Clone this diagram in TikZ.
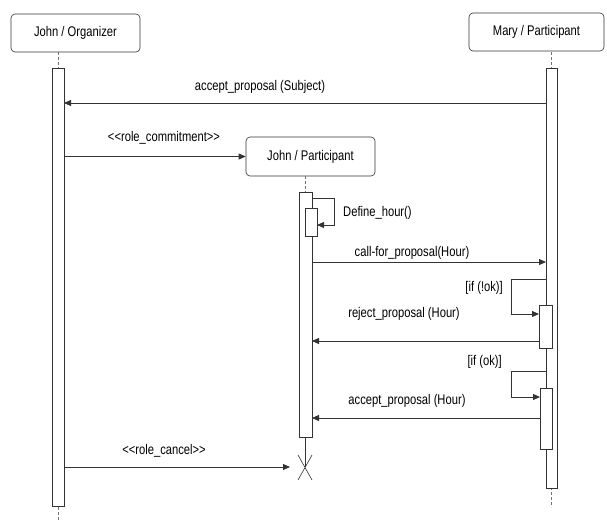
\documentclass[tikz,border=0pt]{standalone}
\usepackage{fontspec}
\setmainfont{Liberation Sans}[FakeStretch=0.8]
\usetikzlibrary{arrows.meta}

\tikzset{
  actor/.style={draw=black!80, semithick, rounded corners=4pt, fill=white, minimum height=38pt, inner sep=0pt, font=\fontsize{14}{16}\selectfont},
  bar/.style={draw=black!80, semithick, fill=white, inner sep=0pt, outer sep=0pt, anchor=north},
  life/.style={draw=black!55, dash pattern=on 3pt off 2pt},
  msg/.style={draw=black!80, thick, -{Triangle[length=7pt,width=6pt]}},
  lbl/.style={inner sep=0pt, font=\fontsize{14}{16}\selectfont}
}

\begin{document}
\begin{tikzpicture}[x=1pt, y=-1pt]
        \useasboundingbox (0,0) rectangle (607,520);
        \node[actor, minimum width=129pt] (org) at (75.5,33) {John / Organizer};
        \node[actor, minimum width=135pt] (mary) at (536.5,32) {Mary / Participant};
        \node[actor, minimum width=129pt, minimum height=39pt] (jp) at (310.5,156.5) {John / Participant};
        \draw[life] (58,52) -- (58,520);
        \draw[life] (551.5,52) -- (551.5,507);
        \draw[life] (305.5,176) -- (305.5,192);
        \draw[draw=black!80, semithick] (305.5,437) -- (305.5,467);
        \node[bar, minimum width=12pt, minimum height=438pt] (orgbar) at (58,68) {};
        \node[bar, minimum width=11pt, minimum height=420pt] (marybar) at (551.5,68) {};
        \node[bar, minimum width=13pt, minimum height=245pt] (jpbar) at (305.5,192) {};
        \node[bar, minimum width=12pt, minimum height=28pt] (defbar) at (311,208) {};
        \node[bar, minimum width=13pt, minimum height=43pt] (nokbar) at (545.5,305) {};
        \node[bar, minimum width=12pt, minimum height=61pt] (okbar) at (546,388) {};
        \coordinate (kill) at (305,467);
        \draw[black!80, semithick] ([shift={(-7,-12)}]kill) -- ([shift={(7,13)}]kill)
            ([shift={(7,-12)}]kill) -- ([shift={(-7,13)}]kill);

        \draw[msg] (marybar.west |- 0,103) -- (orgbar.east |- 0,103);
        \node[lbl] (m1) at (260,87) {accept\_proposal (Subject)};
        \draw[msg] (orgbar.east |- jp.west) -- (jp.west);
        \node[lbl] (m2) at (164,138) {<{}<role\_commitment>{}>};
        \draw[msg] (jpbar.east |- 0,198) -- (334,198) -- (334,225) -- (defbar.east |- 0,225);
        \node[lbl, anchor=west] (m3) at (343,213) {Define\_hour()};
        \draw[msg] (jpbar.east |- 0,262) -- (marybar.west |- 0,262);
        \node[lbl] (m4) at (412,253) {call-for\_proposal(Hour)};
        \draw[msg] (marybar.west |- 0,279) -- (511,279) -- (511,314) -- (nokbar.west |- 0,314);
        \node[lbl, anchor=east] (m5) at (503,288) {[if (!ok)]};
        \draw[msg] (nokbar.west |- 0,341) -- (jpbar.east |- 0,341);
        \node[lbl] (m6) at (404,314) {reject\_proposal (Hour)};
        \draw[msg] (marybar.west |- 0,371) -- (511,371) -- (511,397) -- (okbar.west |- 0,397);
        \node[lbl, anchor=east] (m7) at (502,362) {[if (ok)]};
        \draw[msg] (okbar.west |- 0,418) -- (jpbar.east |- 0,418);
        \node[lbl] (m8) at (407,401) {accept\_proposal (Hour)};
        \draw[msg] (orgbar.east |- kill) -- ([xshift=-15pt]kill);
        \node[lbl] (m9) at (164,451) {<{}<role\_cancel>{}>};
    \end{tikzpicture}
\end{document}
